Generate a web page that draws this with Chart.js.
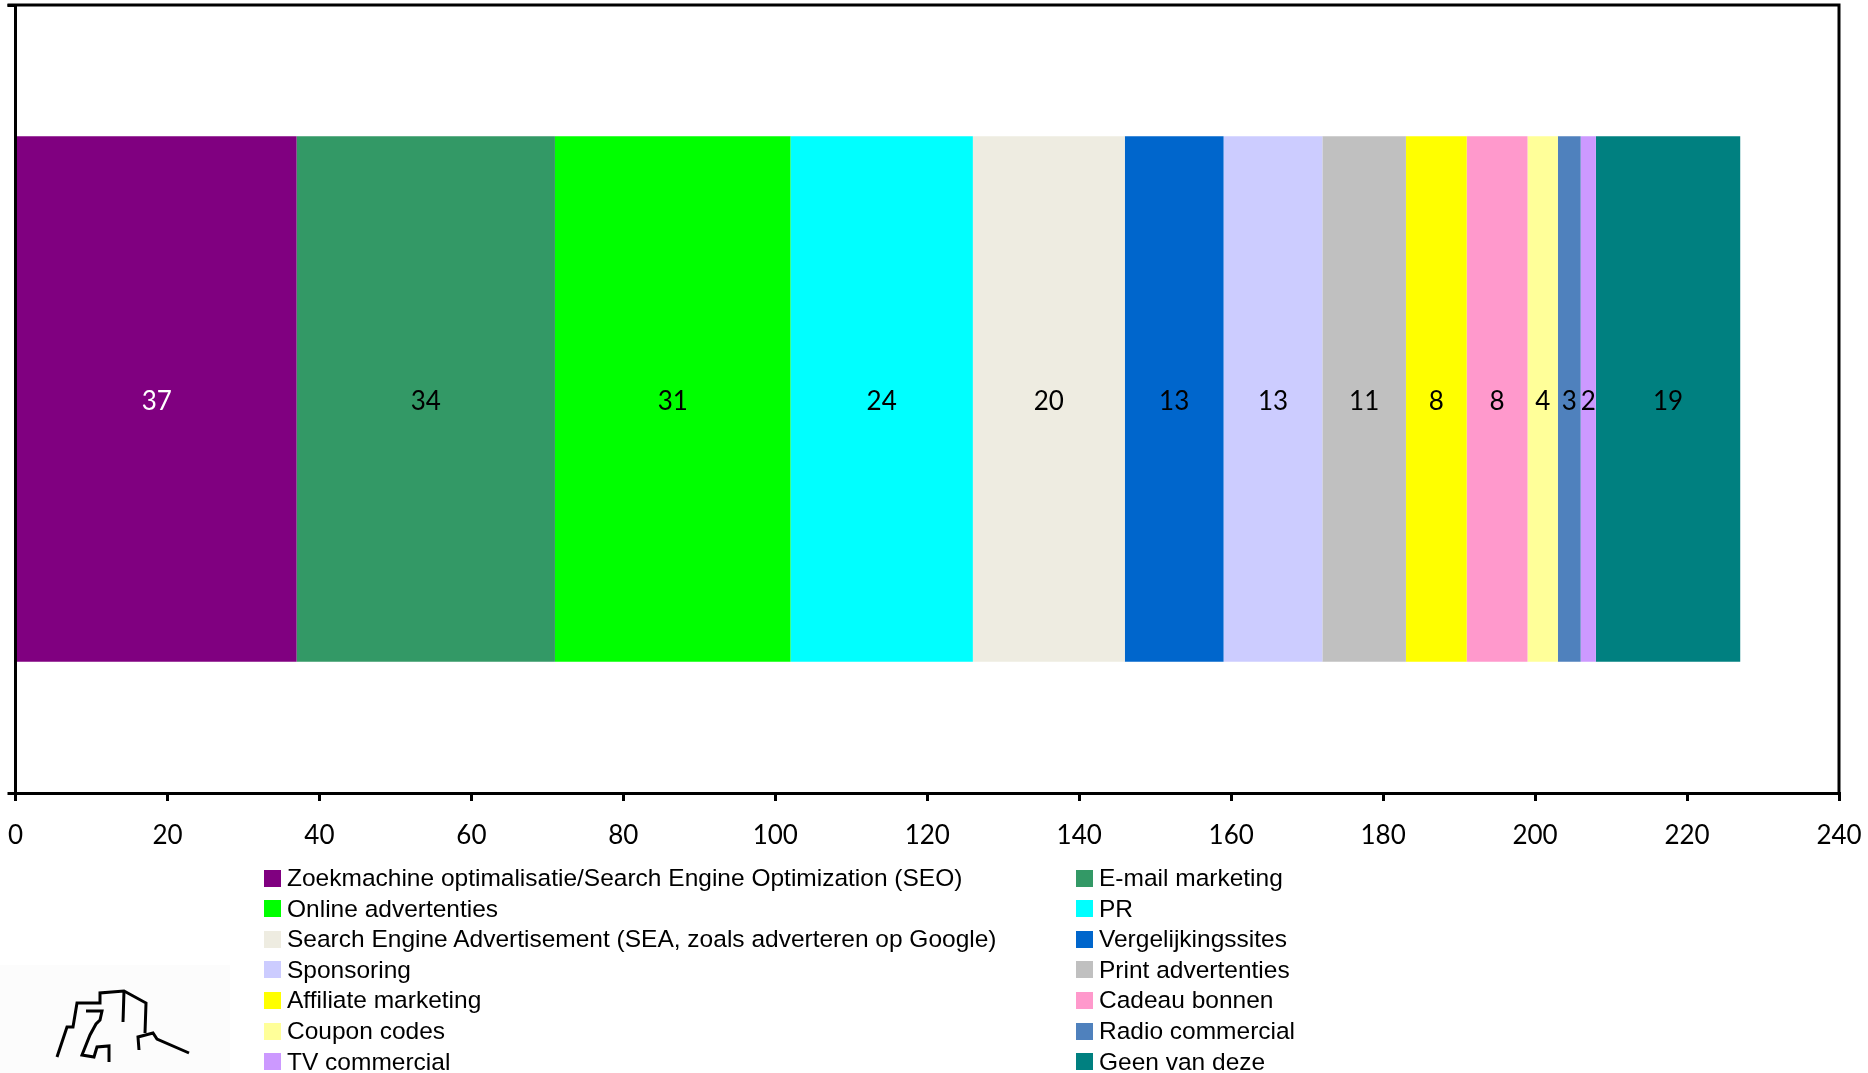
<!DOCTYPE html>
<html>
<head>
<meta charset="utf-8">
<script src="https://cdn.jsdelivr.net/npm/chart.js@4/dist/chart.umd.min.js"></script>
<style>
  html, body { margin: 0; padding: 0; background: #fff; }
  #wrap { position: relative; width: 1868px; height: 1073px; overflow: hidden; }
  #legend { position: absolute; left: 0; top: 0; }
  .item { position: absolute; height: 30px; display: flex; align-items: center;
          font-family: "Liberation Sans", Arial, sans-serif; font-size: 24.5px; color: #000; white-space: nowrap; }
  .box { width: 17px; height: 17px; margin-right: 6px; flex: none; }
</style>
</head>
<body>
<div id="wrap">
  <canvas id="mediaChart" width="1868" height="1073"></canvas>
  <div id="legend"></div>
</div>
<script>
const channels = [
  "Zoekmachine optimalisatie/Search Engine Optimization (SEO)",
  "E-mail marketing",
  "Online advertenties",
  "PR",
  "Search Engine Advertisement (SEA, zoals adverteren op Google)",
  "Vergelijkingssites",
  "Sponsoring",
  "Print advertenties",
  "Affiliate marketing",
  "Cadeau bonnen",
  "Coupon codes",
  "Radio commercial",
  "TV commercial",
  "Geen van deze"
];
const counts = [37, 34, 31, 24, 20, 13, 13, 11, 8, 8, 4, 3, 2, 19];
const xTicks = [0, 20, 40, 60, 80, 100, 120, 140, 160, 180, 200, 220, 240];

const colors = [
  "#800080", "#339966", "#00ff00", "#00ffff", "#eeece1", "#0066cc", "#ccccff",
  "#c0c0c0", "#ffff00", "#ff99cc", "#ffff99", "#4f81bd", "#cc99ff", "#008080"
];

// value printed in the middle of every segment
const segmentLabels = {
  id: "segmentLabels",
  afterDatasetsDraw(chart) {
    const ctx = chart.ctx;
    ctx.save();
    ctx.font = "26px Lato";
    ctx.textAlign = "center";
    ctx.textBaseline = "middle";
    chart.data.datasets.forEach((ds, i) => {
      const bar = chart.getDatasetMeta(i).data[0];
      ctx.fillStyle = i === 0 ? "#ffffff" : "#000000";
      ctx.fillText(String(ds.data[0]), (bar.x + bar.base) / 2, bar.y + 3);
    });
    ctx.restore();
  }
};

// closes the plot box on top and right
const frame = {
  id: "frame",
  afterDraw(chart) {
    const { ctx, chartArea: a } = chart;
    ctx.save();
    ctx.strokeStyle = "#000";
    ctx.lineWidth = 3;
    ctx.beginPath();
    ctx.moveTo(a.left - 8, a.top);
    ctx.lineTo(a.right, a.top);
    ctx.lineTo(a.right, a.bottom);
    ctx.stroke();
    ctx.restore();
  }
};

// small building sketch in the lower left corner
const logo = {
  id: "logo",
  beforeDraw(chart) {
    const ctx = chart.ctx;
    ctx.save();
    ctx.fillStyle = "#fcfcfc";
    ctx.fillRect(0, 965, 230, 108);
    ctx.restore();
  },
  afterDraw(chart) {
    const ctx = chart.ctx;
    const paths = [
      [[57, 1057], [67, 1027], [73, 1027], [77, 1003], [100, 1003], [100, 993], [124, 991], [146, 1003], [145, 1033]],
      [[124, 991], [123, 1022]],
      [[86, 1011], [102, 1011], [100, 1020], [96, 1024], [90, 1035], [82, 1055], [94, 1057], [97, 1047], [109, 1046], [109, 1062]],
      [[139, 1050], [138, 1037], [153, 1033], [157, 1039], [189, 1053]]
    ];
    ctx.save();
    ctx.strokeStyle = "#000";
    ctx.lineWidth = 3;
    ctx.lineJoin = "miter";
    paths.forEach(p => {
      ctx.beginPath();
      p.forEach(([x, y], k) => (k ? ctx.lineTo(x, y) : ctx.moveTo(x, y)));
      ctx.stroke();
    });
    ctx.restore();
  }
};

const chart = new Chart(document.getElementById("mediaChart"), {
  type: "bar",
  data: {
    labels: [""],
    datasets: channels.map((name, i) => ({
      label: name,
      data: [counts[i]],
      backgroundColor: colors[i],
      borderWidth: 0,
      barPercentage: 0.667,
      categoryPercentage: 1
    }))
  },
  options: {
    indexAxis: "y",
    responsive: false,
    animation: false,
    devicePixelRatio: 1,
    layout: { padding: { left: 7.5, top: 5, right: 29, bottom: 220 } },
    plugins: { legend: { display: false }, tooltip: { enabled: false } },
    scales: {
      x: {
        stacked: true,
        min: 0,
        max: 240,
        afterBuildTicks: s => { s.ticks = xTicks.map(v => ({ value: v })); },
        afterFit: s => { s.height = 60; s.paddingLeft = 0; s.paddingRight = 0; },
        ticks: { color: "#000", font: { family: "Lato", size: 26 }, padding: 19, maxRotation: 0 },
        grid: { drawOnChartArea: false, drawTicks: true, tickLength: 8, color: "#000", lineWidth: 3 },
        border: { display: true, color: "#000", width: 3 }
      },
      y: {
        stacked: true,
        afterFit: s => { s.width = 8; },
        ticks: { display: false },
        grid: { drawOnChartArea: false, drawTicks: true, tickLength: 8, color: "#000", lineWidth: 3, offset: true },
        border: { display: true, color: "#000", width: 3 }
      }
    }
  },
  plugins: [segmentLabels, frame, logo]
});

// two-column legend under the axis
const legend = document.getElementById("legend");
chart.data.datasets.forEach((ds, i) => {
  const col = i % 2, row = Math.floor(i / 2);
  const el = document.createElement("div");
  el.className = "item";
  el.style.left = (col ? 1076 : 264) + "px";
  el.style.top = (878 + row * 30.6 - 15) + "px";
  el.innerHTML = '<span class="box"></span><span></span>';
  el.firstChild.style.background = ds.backgroundColor;
  el.lastChild.textContent = ds.label;
  legend.appendChild(el);
});
</script>
</body>
</html>
